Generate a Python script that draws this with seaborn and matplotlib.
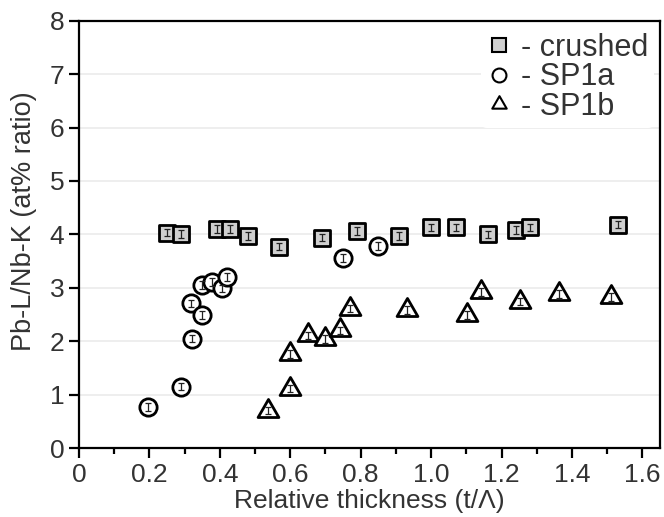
import numpy as np
import pandas as pd
import seaborn as sns
import matplotlib
matplotlib.use("Agg")
import matplotlib.pyplot as plt
from matplotlib.lines import Line2D
from matplotlib.path import Path
from matplotlib.markers import MarkerStyle

# ---- data ----
crushed_x = [0.249, 0.289, 0.391, 0.429, 0.479, 0.569, 0.689, 0.789, 0.910, 1.000,
             1.071, 1.161, 1.241, 1.281, 1.532]
crushed_y = [4.03, 4.01, 4.10, 4.10, 3.97, 3.77, 3.94, 4.06, 3.97, 4.13,
             4.13, 4.00, 4.08, 4.13, 4.18]

sp1a_x = [0.197, 0.289, 0.320, 0.318, 0.349, 0.349, 0.377, 0.407, 0.420, 0.751, 0.850]
sp1a_y = [0.77, 1.15, 2.05, 2.71, 2.49, 3.05, 3.11, 2.99, 3.20, 3.56, 3.78]

sp1b_x = [0.538, 0.599, 0.599, 0.649, 0.699, 0.740, 0.770, 0.931, 1.101, 1.141,
          1.251, 1.362, 1.511]
sp1b_y = [0.70, 1.11, 1.76, 2.11, 2.04, 2.20, 2.61, 2.58, 2.49, 2.92,
          2.74, 2.88, 2.83]

err = 0.07
labels = ["- crushed", "- SP1a", "- SP1b"]
x_ticks = [0, 0.2, 0.4, 0.6, 0.8, 1.0, 1.2, 1.4, 1.6]
x_ticklabels = ["0", "0.2", "0.4", "0.6", "0.8", "1.0", "1.2", "1.4", "1.6"]
y_ticks = [0, 1, 2, 3, 4, 5, 6, 7, 8]

sns.set_theme(style="white")
plt.rcParams["font.family"] = ["Liberation Sans", "DejaVu Sans"]

fig = plt.figure(figsize=(6.64, 5.17), dpi=100)
ax = fig.add_axes([79 / 664, (517 - 448) / 517, (660 - 79) / 664, (448 - 20.7) / 517])

# horizontal grid
for yv in y_ticks[1:-1]:
    ax.axhline(yv, color="#ebebeb", lw=1.2, zorder=0)

tri_path = Path([(0, 1.155), (-1, -0.577), (1, -0.577), (0, 1.155)],
                [Path.MOVETO, Path.LINETO, Path.LINETO, Path.CLOSEPOLY])
tri = MarkerStyle(tri_path)

df_c = pd.DataFrame({"x": crushed_x, "y": crushed_y})
df_a = pd.DataFrame({"x": sp1a_x, "y": sp1a_y})
df_b = pd.DataFrame({"x": sp1b_x, "y": sp1b_y})

sns.scatterplot(data=df_c, x="x", y="y", marker="s", s=130, color="#cfcfcf",
                edgecolor="black", linewidth=2.0, ax=ax, zorder=3, legend=False)
sns.scatterplot(data=df_a, x="x", y="y", marker="o", s=155, color="white",
                edgecolor="black", linewidth=2.0, ax=ax, zorder=3, legend=False)
sns.scatterplot(data=df_b, x="x", y="y", marker=tri, s=300, color="white",
                edgecolor="black", linewidth=2.0, ax=ax, zorder=3, legend=False)

for df in (df_c, df_a, df_b):
    ax.errorbar(df["x"], df["y"], yerr=err, fmt="none", ecolor="#222222",
                elinewidth=0.9, capsize=2.2, capthick=0.9, zorder=4)

ax.set_xlim(0, 1.65)
ax.set_ylim(0, 8)
ax.set_xticks(x_ticks)
ax.set_xticklabels(x_ticklabels)
ax.set_xticks(np.arange(0.1, 1.65, 0.2), minor=True)
ax.set_yticks(y_ticks)

ax.tick_params(axis="both", which="major", direction="out", length=7, width=1.6,
               labelsize=19, color="black", labelcolor="#333333", pad=3.5)
ax.tick_params(axis="x", which="minor", direction="out", length=4, width=1.6,
               color="black", bottom=True)
ax.tick_params(axis="x", which="both", bottom=True, top=False)
ax.tick_params(axis="y", which="both", left=True, right=False)

for sp in ax.spines.values():
    sp.set_linewidth(1.6)
    sp.set_color("black")
    sp.set_visible(True)

ax.set_xlabel("Relative thickness (t/\u039b)", fontsize=19, color="#333333", labelpad=2)
ax.set_ylabel("Pb-L/Nb-K (at% ratio)", fontsize=19.5, color="#333333")
ax.yaxis.set_label_coords(-0.072, 0.53)

handles = [
    Line2D([], [], marker="s", ls="none", ms=9.5, mfc="#cfcfcf", mec="black", mew=1.5),
    Line2D([], [], marker="o", ls="none", ms=10, mfc="white", mec="black", mew=1.5),
    Line2D([], [], marker=tri, ls="none", ms=12, mfc="white", mec="black", mew=1.5),
]
leg = ax.legend(handles, labels, loc="upper right", fontsize=22, frameon=True,
                facecolor="white", edgecolor="none", framealpha=1,
                handlelength=0.8, handletextpad=0.3, labelspacing=-0.02,
                borderaxespad=0.2, borderpad=0.2)
for t in leg.get_texts():
    t.set_color("#333333")

fig.savefig("out.png", dpi=100)
